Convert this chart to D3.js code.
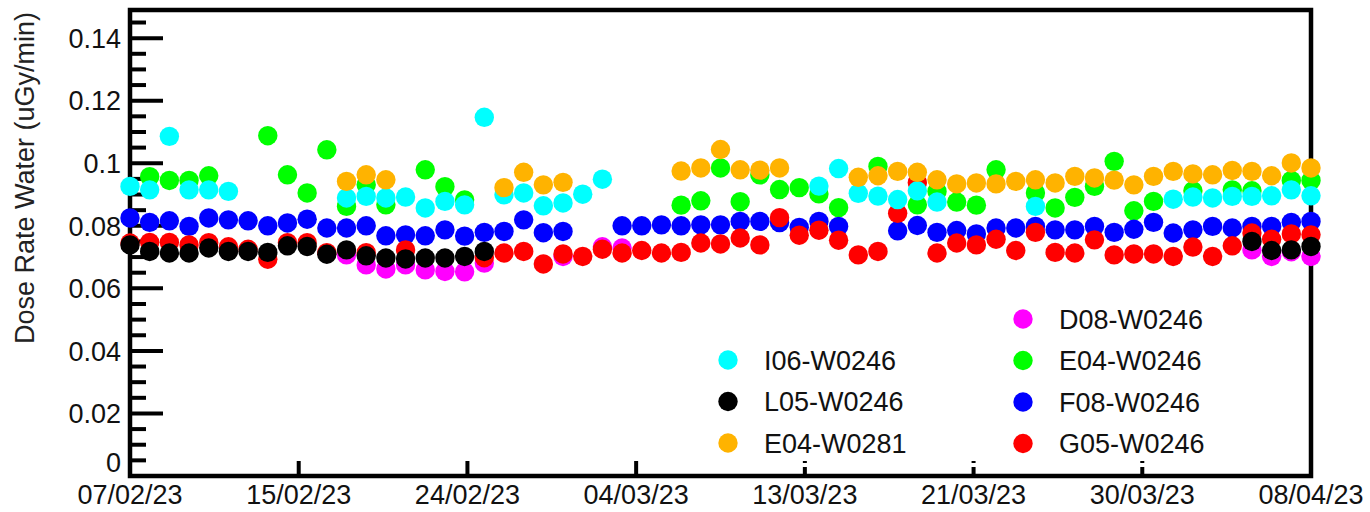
<!DOCTYPE html>
<html>
<head>
<meta charset="utf-8">
<script src="https://cdn.jsdelivr.net/npm/d3@7"></script>
<style>
  body { margin: 0; background: #fff; }
  svg { display: block; font-family: "Liberation Sans", Arial, sans-serif; }
</style>
</head>
<body>
<svg id="chart" width="1370" height="512"></svg>
<script>
/*
Daily dose rate per detector, drawn as a ROOT-like scatter plot.
*/

// first and last day shown on the time axis
var startDay = new Date(Date.UTC(2023, 1, 7));
var endDay = new Date(Date.UTC(2023, 3, 8));

// one value per day from 07/02/23 (null = no point that day)
var i06 = [0.0926, 0.0915, 0.1086, 0.0915, 0.0915, 0.0910, null, null, null, null,
  null, 0.0889, 0.0894, 0.0889, 0.0892, 0.0857, 0.0878, 0.0867, 0.1147, 0.0899,
  0.0905, 0.0864, 0.0873, 0.0901, 0.0949, null, null, null, null, null,
  null, null, null, null, null, 0.0927, 0.0983, 0.0904, 0.0895, 0.0884,
  0.0912, 0.0876, null, null, null, null, 0.0862, null, null, null,
  null, null, null, 0.0885, 0.0892, 0.0889, 0.0894, 0.0894, 0.0896, 0.0915,
  0.0896];

var e04 = [null, 0.0957, 0.0945, 0.0945, 0.0960, null, null, 0.1088, 0.0963, 0.0905,
  0.1043, 0.0862, 0.0931, 0.0867, null, 0.0979, 0.0925, 0.0883, null, null,
  null, null, null, null, null, null, null, null, 0.0866, 0.0880,
  0.0985, 0.0877, 0.0963, 0.0916, 0.0922, 0.0902, 0.0858, null, 0.0990, null,
  0.0867, 0.0910, 0.0876, 0.0866, 0.0979, null, 0.0905, 0.0857, 0.0891, 0.0926,
  0.1006, 0.0848, 0.0878, null, 0.0912, null, 0.0915, 0.0912, null, 0.0945,
  0.0945];

var e04w281 = [null, null, null, null, null, null, null, null, null, null,
  null, 0.0942, 0.0963, 0.0947, null, null, null, null, null, 0.0922,
  0.0971, 0.0931, 0.0939, null, null, null, null, null, 0.0975, 0.0985,
  0.1044, 0.0979, 0.0978, 0.0985, null, null, null, 0.0955, 0.0960, 0.0974,
  0.0971, 0.0947, 0.0934, 0.0937, 0.0934, 0.0942, 0.0947, 0.0937, 0.0958, 0.0953,
  0.0946, 0.0931, 0.0958, 0.0974, 0.0966, 0.0963, 0.0977, 0.0974, 0.0960, 0.1001,
  0.0985];

var f08 = [0.0825, 0.0811, 0.0816, 0.0798, 0.0825, 0.0819, 0.0816, 0.0800, 0.0809, 0.0821,
  0.0793, 0.0793, 0.0800, 0.0768, 0.0771, 0.0768, 0.0787, 0.0767, 0.0779, 0.0782,
  0.0819, 0.0778, 0.0782, null, null, 0.0800, 0.0800, 0.0803, 0.0800, 0.0803,
  0.0803, 0.0814, 0.0814, 0.0810, 0.0795, 0.0814, 0.0798, null, null, 0.0784,
  0.0801, 0.0779, 0.0785, 0.0774, 0.0793, 0.0793, 0.0798, 0.0787, 0.0787, 0.0798,
  0.0779, 0.0789, 0.0811, 0.0777, 0.0787, 0.0798, 0.0793, 0.0798, 0.0798, 0.0811,
  0.0814];

var g05 = [0.0745, 0.0747, 0.0747, 0.0739, 0.0746, 0.0733, 0.0725, 0.0693, 0.0746, 0.0746,
  0.0714, null, 0.0714, null, 0.0723, null, null, null, 0.0698, 0.0713,
  0.0718, 0.0678, 0.0710, 0.0702, 0.0725, 0.0713, 0.0721, 0.0713, 0.0715, 0.0745,
  0.0742, 0.0761, 0.0739, 0.0826, 0.0770, 0.0786, 0.0754, 0.0707, 0.0718, 0.0840,
  0.0938, 0.0713, 0.0745, 0.0739, 0.0757, 0.0721, 0.0779, 0.0715, 0.0713, 0.0755,
  0.0707, 0.0710, 0.0710, 0.0702, 0.0732, 0.0702, 0.0736, 0.0777, 0.0757, 0.0774,
  0.0771];

var l05 = [0.0739, 0.0718, 0.0713, 0.0713, 0.0729, 0.0718, 0.0718, 0.0715, 0.0736, 0.0734,
  0.0709, 0.0723, 0.0704, 0.0697, 0.0694, 0.0697, 0.0697, 0.0702, 0.0718, null,
  null, null, null, null, null, null, null, null, null, null,
  null, null, null, null, null, null, null, null, null, null,
  null, null, null, null, null, null, null, null, null, null,
  null, null, null, null, null, null, null, 0.0750, 0.0721, 0.0723,
  0.0734];

var d08 = [null, null, null, null, null, null, null, null, null, null,
  null, 0.0707, 0.0675, 0.0662, 0.0675, 0.0659, 0.0654, 0.0653, 0.0681, null,
  null, null, 0.0702, null, 0.0733, 0.0729, null, null, null, null,
  null, null, null, null, null, null, null, null, null, null,
  null, null, null, null, null, null, null, null, null, null,
  null, null, null, null, null, null, null, 0.0723, 0.0702, 0.0717,
  0.0702];

// drawing order (later ones sit on top)
var seriesNames = ["D08-W0246", "E04-W0246", "F08-W0246", "G05-W0246", "I06-W0246", "L05-W0246", "E04-W0281"];
var seriesValues = [d08, e04, f08, g05, i06, l05, e04w281];
var seriesColors = ["#ff00ff", "#00ff00", "#0000ff", "#ff0000", "#00ffff", "#000000", "#ffb300"];

// legend is two columns, in this order
var legendLeft = ["I06-W0246", "L05-W0246", "E04-W0281"];
var legendRight = ["D08-W0246", "E04-W0246", "F08-W0246", "G05-W0246"];

var yMajorTicks = [0, 0.02, 0.04, 0.06, 0.08, 0.1, 0.12, 0.14];

function main() {
  var svg = d3.select("#chart");
  var frame = { left: 130, right: 1311, top: 10, bottom: 476 };

  var x = d3.scaleUtc().domain([startDay, endDay]).range([frame.left, frame.right]);
  var y = d3.scaleLinear().domain([0, 0.149]).range([frame.bottom, frame.top]);

  drawAxes(svg, x, y, frame);
  drawPoints(svg, x, y);
  drawLegend(svg);
}

function drawAxes(svg, x, y, frame) {
  // y minor ticks every 0.005, major every 0.02
  var minor = d3.range(0, 0.1451, 0.005);
  svg.append("g").selectAll("line")
    .data(minor)
    .enter().append("line")
    .attr("x1", frame.left)
    .attr("x2", function(d) {
      var isMajor = Math.abs(Math.round(d / 0.02) * 0.02 - d) < 1e-6;
      return frame.left + (isMajor ? 33 : 16);
    })
    .attr("y1", d => y(d))
    .attr("y2", d => y(d))
    .attr("stroke", "#000")
    .attr("stroke-width", 4);

  // the "0" label is lifted so it clears the first date label
  svg.append("g").selectAll("text")
    .data(yMajorTicks)
    .enter().append("text")
    .attr("x", 121)
    .attr("y", d => d === 0 ? y(d) - 14 : y(d))
    .attr("dy", "0.36em")
    .attr("text-anchor", "end")
    .attr("font-size", 27)
    .attr("fill", "#111")
    .text(d => d3.format("~g")(d));

  // ROOT style time axis: 7 equal divisions
  var span = endDay - startDay;
  var xTicks = d3.range(8).map(i => new Date(+startDay + i * span / 7));
  svg.append("g").selectAll("line")
    .data(xTicks.slice(1, 7))
    .enter().append("line")
    .attr("x1", d => x(d))
    .attr("x2", d => x(d))
    .attr("y1", frame.bottom)
    .attr("y2", frame.bottom - 15)
    .attr("stroke", "#000")
    .attr("stroke-width", 4)
    .attr("stroke-dasharray", (d, i) => i >= 3 ? "9,4,2,20" : null);

  svg.append("g").selectAll("text")
    .data(xTicks)
    .enter().append("text")
    .attr("x", d => x(d))
    .attr("y", 504)
    .attr("text-anchor", "middle")
    .attr("font-size", 27)
    .attr("fill", "#111")
    .text(d => d3.utcFormat("%d/%m/%y")(d));

  // frame around the pad
  svg.append("rect")
    .attr("x", frame.left)
    .attr("y", frame.top)
    .attr("width", frame.right - frame.left)
    .attr("height", frame.bottom - frame.top)
    .attr("fill", "none")
    .attr("stroke", "#000")
    .attr("stroke-width", 4.5);

  svg.append("text")
    .attr("transform", "translate(34,12) rotate(-90)")
    .attr("text-anchor", "end")
    .attr("font-size", 27)
    .attr("fill", "#222")
    .text("Dose Rate Water (uGy/min)");
}

function drawPoints(svg, x, y) {
  seriesValues.forEach(function(values, k) {
    var pts = values
      .map((v, i) => ({ date: d3.utcDay.offset(startDay, i), value: v }))
      .filter(d => d.value !== null);
    svg.append("g")
      .attr("class", "series")
      .selectAll("circle")
      .data(pts)
      .enter().append("circle")
      .attr("cx", d => x(d.date))
      .attr("cy", d => y(d.value))
      .attr("r", 9.7)
      .attr("fill", seriesColors[k]);
  });
}

function drawLegend(svg) {
  var colorOf = d3.scaleOrdinal().domain(seriesNames).range(seriesColors);
  var cols = [
    { names: legendLeft, x: 728, y0: 360 },
    { names: legendRight, x: 1023, y0: 319 }
  ];
  cols.forEach(function(col) {
    var g = svg.append("g");
    var rows = g.selectAll("g")
      .data(col.names)
      .enter().append("g")
      .attr("transform", (d, i) => "translate(" + col.x + "," + (col.y0 + i * 41.5) + ")");
    rows.append("circle")
      .attr("r", 9.7)
      .attr("fill", d => colorOf(d));
    rows.append("text")
      .attr("x", 36)
      .attr("dy", "0.36em")
      .attr("font-size", 27)
      .attr("fill", "#111")
      .text(d => d);
  });
}

main();
</script>
</body>
</html>
